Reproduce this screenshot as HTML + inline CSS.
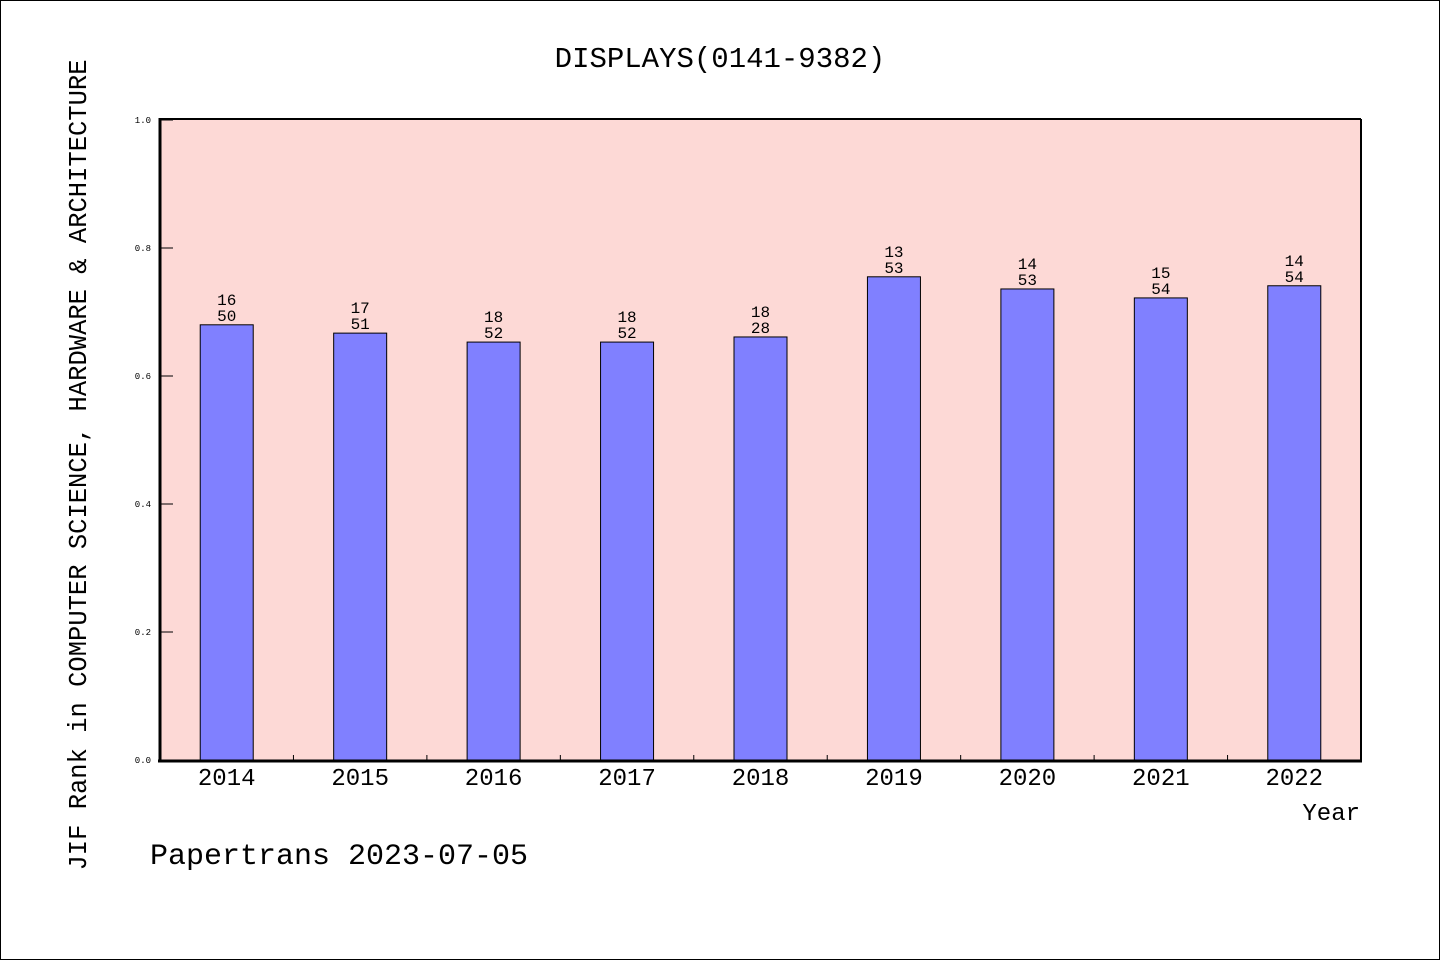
<!DOCTYPE html>
<html><head><meta charset="utf-8"><style>
body{margin:0;background:#fff}
svg text{font-family:"Liberation Mono","DejaVu Sans Mono",monospace;fill:#000}
</style></head><body>
<svg width="1440" height="960" xmlns="http://www.w3.org/2000/svg">
<rect x="0.5" y="0.5" width="1439" height="959" fill="#fff" stroke="#000"/>
<text x="720" y="67" font-size="29" text-anchor="middle">DISPLAYS(0141-9382)</text>
<rect x="160" y="120" width="1201" height="640" fill="#fdd9d6"/>
<g id="bars"></g>
<line x1="160" y1="119" x2="1361" y2="119" stroke="#000" stroke-width="2"/>
<line x1="1361" y1="119" x2="1361" y2="761" stroke="#000" stroke-width="2"/>
<line x1="160" y1="118" x2="160" y2="762" stroke="#000" stroke-width="3"/>
<line x1="158" y1="761" x2="1362" y2="761" stroke="#000" stroke-width="3"/>
<g id="yticks"></g>
<text x="1360" y="820" font-size="24" text-anchor="end">Year</text>
<text transform="translate(86,465) rotate(-90)" font-size="25.5" text-anchor="middle">JIF Rank in COMPUTER SCIENCE, HARDWARE &amp; ARCHITECTURE</text>
<text x="150" y="864" font-size="30">Papertrans 2023-07-05</text>
</svg>
<script>
const years=["2014","2015","2016","2017","2018","2019","2020","2021","2022"];
const values=[0.680,0.667,0.653,0.653,0.661,0.755,0.736,0.722,0.741];
const ranks=["16","17","18","18","18","13","14","15","14"];
const totals=["50","51","52","52","28","53","53","54","54"];
const yTicks=[0,0.2,0.4,0.6,0.8,1.0];
const NS="http://www.w3.org/2000/svg";
const x0=160,x1=1361,y0=760,y1=120;
const band=(x1-x0)/years.length;
const xc=i=>x0+band*(i+0.5);
const ys=v=>y0-(y0-y1)*v;
function mk(t,a,p){const e=document.createElementNS(NS,t);for(const k in a)e.setAttribute(k,a[k]);p.appendChild(e);return e;}
const bg=document.getElementById('bars');
years.forEach((y,i)=>{
 const r=mk('rect',{x:xc(i)-26.5,y:ys(values[i]),width:53,height:y0-ys(values[i]),fill:'#8080ff',stroke:'#000','stroke-width':1},bg);
 
 
 const t1=mk('text',{x:xc(i),y:ys(values[i])-20,'font-size':16,'text-anchor':'middle'},bg);t1.textContent=ranks[i];
 
 
 const t2=mk('text',{x:xc(i),y:ys(values[i])-4,'font-size':16,'text-anchor':'middle'},bg);t2.textContent=totals[i];
 
 
 const xl=mk('text',{x:xc(i),y:785,'font-size':24,'text-anchor':'middle'},bg);xl.textContent=y;
 
 
 if(i>0){const tk=mk('line',{x1:x0+band*i,x2:x0+band*i,y1:755,y2:760,stroke:'#000'},bg);
 
 }
});
const tg=document.getElementById('yticks');
yTicks.forEach(v=>{
 const l=mk('line',{x1:161,x2:173,y1:ys(v),y2:ys(v),stroke:'#000'},tg);
 
 
 const t=mk('text',{x:151,y:ys(v)+3,'font-size':9,'text-anchor':'end','font-family':'Liberation Sans, sans-serif'},tg);t.textContent=v.toFixed(1);
 
 
});
</script>
</body></html>
